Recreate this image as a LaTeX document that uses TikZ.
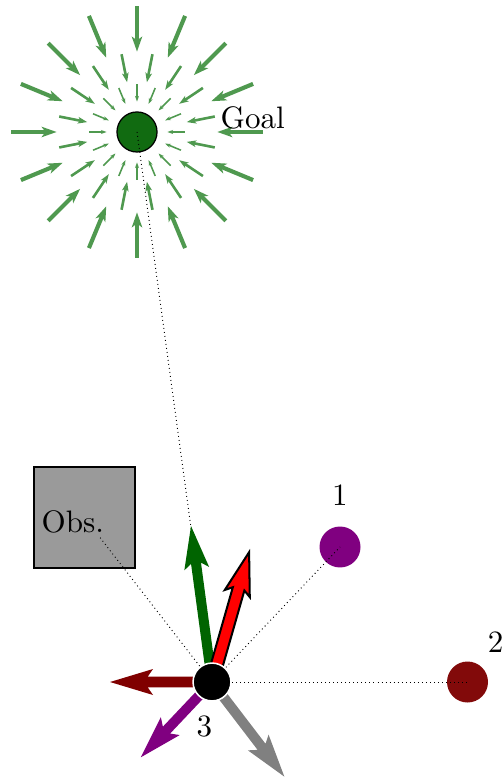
\documentclass[tikz,border=0pt]{standalone}
\usetikzlibrary{arrows.meta}
\definecolor{fieldgreen}{RGB}{79,153,79}
\definecolor{goalgreen}{RGB}{17,107,17}
\definecolor{vecgreen}{RGB}{0,100,0}
\definecolor{agentpurple}{RGB}{128,0,128}
\definecolor{agentred}{RGB}{130,10,10}
\definecolor{vecmaroon}{RGB}{128,0,0}
\definecolor{obsgray}{RGB}{154,154,154}
% #1 style, #2 angle, #3 length, #4 shaft half width, #5 head half width
\newcommand{\forcevec}[5]{%
  \pgfmathsetmacro\fvs{#3-43+(#5-#4)/#5*9}%
  \path[#1, shift={(rc)}, rotate=#2]
    (0,-#4) -- (\fvs,-#4) -- ({#3-43},-#5) -- (#3,0)
    -- ({#3-43},#5) -- (\fvs,#4) -- (0,#4) -- cycle;}
\begin{document}
\begin{tikzpicture}[x=0.322pt,y=0.322pt,
  goalnode/.style={circle, inner sep=0pt, minimum size=12.9pt, fill=goalgreen, draw=black, line width=0.4pt},
  agent/.style={circle, inner sep=0pt, minimum size=13.2pt},
  robotnode/.style={circle, inner sep=0pt, minimum size=12.2pt, fill=black, draw=white, line width=0.5pt},
  obsbox/.style={rectangle, inner sep=0pt, minimum size=32.5pt, fill=obsgray, draw=black, line width=0.65pt},
  obslabel/.style={fill=obsgray, inner sep=1pt},
  link/.style={densely dotted, line width=0.3pt},
  lbl/.style={inner sep=0pt}]
\useasboundingbox (0,0) rectangle (502,-778);
% main objects
\node[obsbox] (obs) at (84.5,-517.5) {};
\node[goalnode] (goal) at (137,-132) {};
\node[agent, fill=agentpurple] (agent1) at (340,-547) {};
\node[agent, fill=agentred] (agent2) at (467.5,-682) {};
\coordinate (rc) at (212,-682);
% goal vector field
\foreach \r/\w/\hl/\hw/\off in {103/1.33/4.8/3.3/0, 65/0.84/3.0/2.1/11.25, 39/0.5/1.8/1.26/0} {
  \foreach \k in {0,...,15} {
    \pgfmathsetmacro\ang{\off+22.5*\k}
    \draw[fieldgreen, line width=\w pt, -{Stealth[length=\hl pt, width=\hw pt, inset=0.25*\hl pt]}, shift={(goal.center)}]
      (\ang:{1.22*\r}) -- (\ang:{0.78*\r});
  }
}
% dotted relations
\draw[link] (goal.center) -- (rc);
\draw[link] (rc) -- (agent1.center);
\draw[link] (rc) -- (agent2.center);
\draw[link] (rc) -- (obs.center);
\node[obslabel, anchor=base west] (obstext) at (38,-532) {Obs.};
% labels
\node[lbl, anchor=base west] (goallabel) at (220,-129) {Goal};
\node[lbl] (lab1) at (340,-495) {1};
\node[lbl] (lab2) at (495.7,-642) {2};
\node[lbl] (lab3) at (204.5,-726) {3};
% force vectors at the robot
\forcevec{fill=gray}{-52.6}{119.1}{5}{13}
\forcevec{fill=agentpurple}{226.6}{103.7}{5}{13}
\forcevec{fill=vecmaroon}{180}{102}{5.3}{13}
\forcevec{fill=vecgreen}{97.67}{157.4}{5}{12.5}
\forcevec{fill=red, draw=black, line width=0.65pt}{74.05}{135}{6}{13}
\node[robotnode] (robot) at (rc) {};
\end{tikzpicture}
\end{document}
